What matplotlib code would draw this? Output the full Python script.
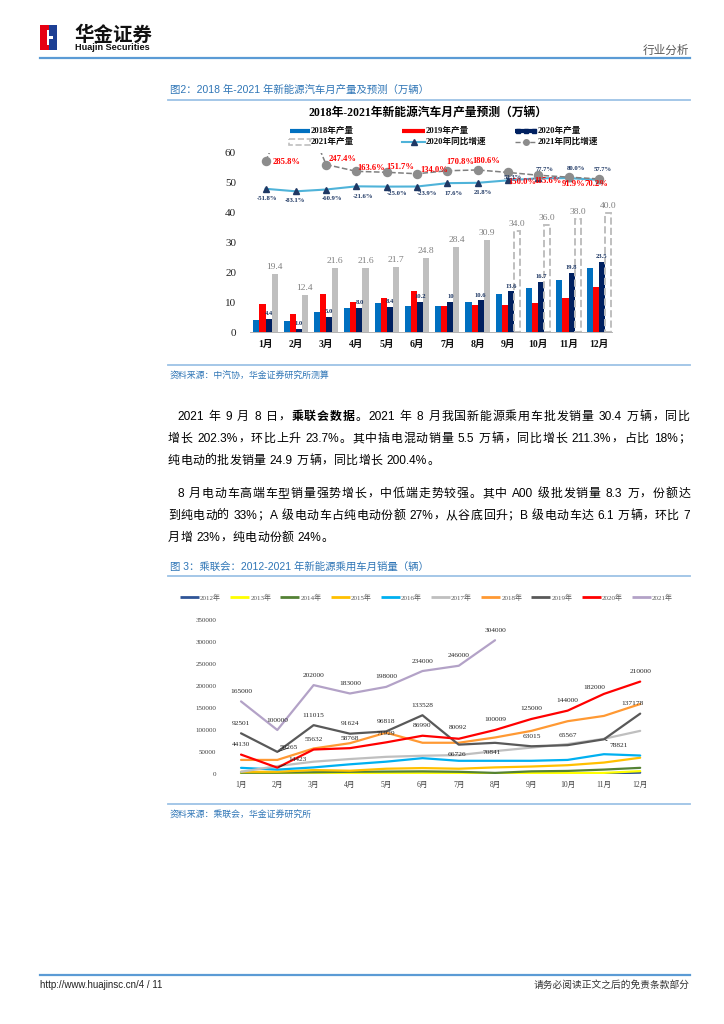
import re
import numpy as np
import matplotlib
matplotlib.use("Agg")
import matplotlib.pyplot as plt
from matplotlib.patches import Rectangle

SANS = ['Liberation Sans', 'Noto Sans CJK SC']
SERIF = ['Liberation Serif', 'Noto Sans CJK SC']
plt.rcParams['font.family'] = SANS

# ---------------- data: chart 1 (万辆 / %) ----------------
months = ['1月', '2月', '3月', '4月', '5月', '6月', '7月', '8月', '9月', '10月', '11月', '12月']
prod_2018 = [4.1, 3.8, 6.8, 8.0, 9.7, 8.6, 8.8, 9.9, 12.6, 14.6, 17.3, 21.5]
prod_2019 = [9.4, 6.0, 12.8, 10.2, 11.3, 13.6, 8.7, 8.9, 9.1, 9.6, 11.4, 15.1]
prod_2020 = [4.4, 1.0, 5.0, 8.0, 8.4, 10.2, 10.0, 10.6, 13.6, 16.7, 19.8, 23.5]
prod_2021 = [19.4, 12.4, 21.6, 21.6, 21.7, 24.8, 28.4, 30.9]
forecast_2021 = [34.0, 36.0, 38.0, 40.0]
yoy_2020 = [-51.8, -83.1, -60.9, -21.6, -25.0, -23.9, 17.6, 21.8, 52.3, 77.7, 80.0, 57.7]
yoy_2021 = [285.8, 1140.0, 247.4, 163.6, 151.7, 134.0, 170.8, 180.6, 150.0, 115.6, 91.9, 70.2]

# ---------------- data: chart 2 (辆) ----------------
years = ['2012年', '2013年', '2014年', '2015年', '2016年', '2017年', '2018年', '2019年', '2020年', '2021年']
sales_2012 = [300, 300, 500, 500, 600, 700, 600, 700, 800, 1000, 1300, 3000]
sales_2013 = [1000, 1000, 1500, 1500, 1500, 1500, 1500, 1500, 2000, 2000, 2500, 6500]
sales_2014 = [3000, 3000, 4000, 5000, 5500, 6000, 5000, 2500, 6000, 7000, 10000, 14000]
sales_2015 = [5000, 5000, 9000, 7500, 12000, 13500, 12000, 15000, 17000, 20000, 26000, 37000]
sales_2016 = [14000, 10000, 15000, 22000, 28000, 36000, 30000, 30000, 30000, 32000, 45000, 42000]
sales_2017 = [5000, 18000, 28000, 34000, 39000, 41500, 43000, 52000, 60000, 68000, 80000, 98000]
sales_2018 = [32000, 32000, 58000, 70000, 94000, 71000, 71000, 83000, 98000, 120000, 132000, 159000]
sales_2019 = [92501, 50265, 111015, 91624, 96818, 133528, 66726, 70841, 63015, 65567, 78821, 137178]
sales_2020 = [44130, 14423, 55632, 58768, 71929, 86990, 80092, 100009, 125000, 144000, 182000, 210000]
sales_2021 = [165000, 100000, 202000, 183000, 198000, 234000, 246000, 304000]
y2_ticks = [0, 50000, 100000, 150000, 200000, 250000, 300000, 350000]

fig = plt.figure(figsize=(7.24, 10.24), dpi=100)
ax0 = fig.add_axes([0, 0, 1, 1])
ax0.set_xlim(0, 724)
ax0.set_ylim(1024, 0)
ax0.axis('off')
rend = fig.canvas.get_renderer()

# ---------------- page header / footer ----------------
ax0.add_patch(Rectangle((40, 25), 9, 25, color='#E60012', lw=0))
ax0.add_patch(Rectangle((49, 25), 8, 25, color='#1D3F94', lw=0))
ax0.add_patch(Rectangle((46.5, 30), 2.5, 15, color='white', lw=0))
ax0.add_patch(Rectangle((49, 35.5), 3.5, 3, color='white', lw=0))
ax0.text(74, 35, '华金证券', fontsize=14, fontweight='bold', family=['Noto Sans CJK SC'],
         va='center', ha='left', color='#111111')
ax0.text(75, 47.5, 'Huajin Securities', fontsize=6.6, fontweight='bold', va='center', ha='left',
         color='#111111')
ax0.text(689, 50, '行业分析', fontsize=8.4, family=['Noto Sans CJK SC'], ha='right', va='center',
         color='#595959')
ax0.plot([40, 690], [57.5, 57.5], color='#5B9BD5', lw=1.6)

ax0.plot([40, 690], [975, 975], color='#5B9BD5', lw=1.6)
ax0.text(40, 985, 'http://www.huajinsc.cn/4 / 11', fontsize=7, va='center', ha='left', color='#222222')
ax0.text(690, 985, '请务必阅读正文之后的免责条款部分', fontsize=7, family=['Noto Sans CJK SC'],
         va='center', ha='right', color='#333333')

BLUE_T = '#2E75B6'
ax0.text(170, 90, '图2：2018 年-2021 年新能源汽车月产量及预测（万辆）', fontsize=7.5, color=BLUE_T,
         va='center', ha='left')
ax0.plot([168, 690], [99.5, 99.5], color='#9DC3E6', lw=1.3)
ax0.plot([168, 690], [365, 365], color='#9DC3E6', lw=1.3)
ax0.text(170, 376, '资料来源：中汽协，华金证券研究所测算', fontsize=6.4, color=BLUE_T, va='center',
         ha='left', fontstyle='italic')

ax0.text(170, 567, '图 3：乘联会：2012-2021 年新能源乘用车月销量（辆）', fontsize=7.5, color=BLUE_T,
         va='center', ha='left')
ax0.plot([168, 690], [576, 576], color='#9DC3E6', lw=1.3)
ax0.plot([168, 690], [804, 804], color='#9DC3E6', lw=1.3)
ax0.text(170, 815, '资料来源：乘联会，华金证券研究所', fontsize=6.4, color=BLUE_T, va='center',
         ha='left', fontstyle='italic')

# ---------------- body text (justified) ----------------
BODY_FS = 8.6


def body_line(x0, y, parts, x1=None):
    toks = []
    for s, b in parts:
        for m in re.finditer(r'[A-Za-z0-9.%]+| |.', s):
            toks.append((m.group(), b))
    objs, widths = [], []
    for t, b in toks:
        if t == ' ':
            objs.append(None)
            widths.append(3.2)
            continue
        o = ax0.text(x0, y + 4, t, fontsize=BODY_FS, fontweight='bold' if b else 'normal',
                     va='baseline', ha='left', color='black')
        objs.append(o)
        widths.append(o.get_window_extent(rend).width)
    gap = 0.4
    if x1 is not None and len(toks) > 1:
        gap = (x1 - x0 - sum(widths)) / (len(toks) - 1)
    x = x0
    for o, w in zip(objs, widths):
        if o is not None:
            o.set_x(x)
        x += w + gap


body_line(177, 416, [('2021 年 9 月 8 日，', False), ('乘联会数据', True),
                     ('。2021 年 8 月我国新能源乘用车批发销量 30.4 万辆，同比', False)], 690)
body_line(168, 438, [('增长 202.3%，环比上升 23.7%。其中插电混动销量 5.5 万辆，同比增长 211.3%，占比 18%；', False)], 690)
body_line(168, 460, [('纯电动的批发销量 24.9 万辆，同比增长 200.4%。', False)])
body_line(177, 493, [('8 月电动车高端车型销量强势增长，中低端走势较强。其中 A00 级批发销量 8.3 万，份额达', False)], 690)
body_line(168, 515, [('到纯电动的 33%；A 级电动车占纯电动份额 27%，从谷底回升；B 级电动车达 6.1 万辆，环比 7', False)], 690)
body_line(168, 537, [('月增 23%，纯电动份额 24%。', False)])

# ---------------- chart 1 ----------------
C18, C19, C20, C21 = '#0070C0', '#FF0000', '#002060', '#BFBFBF'
ax0.text(428, 114, '2018年-2021年新能源汽车月产量预测（万辆）', fontsize=8.5, fontweight='bold',
         family=SERIF, ha='center', va='center', color='black')
lg = dict(fontsize=6.2, fontweight='bold', family=SERIF, va='center', ha='left', color='#111111')
ax0.plot([290, 310], [131, 131], color=C18, lw=3, solid_capstyle='butt')
ax0.text(311, 131, '2018年产量', **lg)
ax0.plot([402, 425], [131, 131], color=C19, lw=3, solid_capstyle='butt')
ax0.text(426, 131, '2019年产量', **lg)
ax0.plot([515, 537], [131, 131], color=C20, lw=3, solid_capstyle='butt')
ax0.plot([518, 526, 534], [131, 131, 131], 's', color=C20, ms=3)
ax0.text(538, 131, '2020年产量', **lg)
ax0.add_patch(Rectangle((289, 139), 21, 6, fill=False, ec=C21, ls='--', lw=1.2))
ax0.text(311, 142, '2021年产量', **lg)
ax0.plot([402, 425], [142, 142], color='#4FB3D9', lw=1.5)
ax0.plot([413.5], [142], '^', color='#1F3864', ms=4)
ax0.text(426, 142, '2020年同比增速', **lg)
ax0.plot([515, 537], [142, 142], color='#7F7F7F', lw=1, ls='--')
ax0.plot([526], [142], 'o', color='#8C8C8C', ms=4)
ax0.text(538, 142, '2021年同比增速', **lg)

ax1 = fig.add_axes([250 / 724, 1 - 332 / 1024, 362 / 724, 179 / 1024])
ax1.patch.set_alpha(0)
x = np.arange(12)
bw = 0.2
ax1.bar(x - 0.3, prod_2018, bw, color=C18, zorder=2)
ax1.bar(x - 0.1, prod_2019, bw, color=C19, zorder=2)
ax1.bar(x + 0.1, prod_2020, bw, color=C20, zorder=2)
ax1.bar(x[:8] + 0.3, prod_2021, bw, color=C21, zorder=2)
ax1.bar(x[8:] + 0.3, forecast_2021, bw, fill=False, edgecolor=C21, ls='--', lw=1.4, zorder=2)
ax1.set_xlim(-0.512, 11.435)
ax1.set_ylim(0, 60)
ax1.set_yticks(range(0, 61, 10))
ax1.set_yticklabels([str(v) for v in range(0, 61, 10)], family=SERIF, fontsize=8, color='#222222')
ax1.set_xticks(x)
ax1.set_xticklabels(months, family=SERIF, fontsize=7, fontweight='bold', color='#111111')
ax1.tick_params(axis='y', length=0, pad=10)
ax1.tick_params(axis='x', length=0, pad=6)
for s in ['left', 'right', 'top']:
    ax1.spines[s].set_visible(False)
ax1.spines['bottom'].set_color('#A6A6A6')
ax1.spines['bottom'].set_linewidth(0.6)

for i, v in enumerate(prod_2021 + forecast_2021):
    ax1.annotate(f'{v:.1f}', (i + 0.3, v), xytext=(0, 2), textcoords='offset points', ha='center',
                 va='bottom', fontsize=6.8, family=SERIF, color='#7F7F7F')
for i, v in enumerate(prod_2020):
    lbl = '10' if v == 10 else f'{v:.1f}'
    ax1.annotate(lbl, (i + 0.1, v), xytext=(0, 2), textcoords='offset points', ha='center',
                 va='bottom', fontsize=4.8, fontweight='bold', family=SERIF, color='#1F3864')

ax1b = ax1.twinx()
ax1b.set_ylim(-1820, 390)
ax1b.axis('off')
ax1b.plot(x, yoy_2020, color='#4FB3D9', lw=1.5, marker='^', ms=4.2, mfc='#1F3864', mec='#1F3864',
          zorder=3)
ax1b.plot(x, yoy_2021, color='#7F7F7F', lw=1.1, ls='--', marker='o', ms=5.8, mfc='#8C8C8C',
          mec='#8C8C8C', zorder=3)
red_off = [(7, 1), None, (3, -6), (1, -3), (0, -5), (3, -4), (-1, -9), (-5, -9), (0, 10), (-4, 6),
           (-7, 7), (-14, 5)]
for i, v in enumerate(yoy_2021):
    if red_off[i] is None:
        continue
    dx, dy = red_off[i]
    ax1b.annotate(f'{v:.1f}%', (i, v), xytext=(dx * 0.72, -dy * 0.72), textcoords='offset points',
                  ha='left', va='center', fontsize=6.2, fontweight='bold', family=SERIF, color='#FF0000',
                  zorder=4)
navy_off = [(1, 10), (-1, 9), (6, 9), (7, 10), (10, 7), (10, 7), (6, 10), (5, 10), (5, -3), (6, -9),
            (7, -10), (4, -10)]
for i, v in enumerate(yoy_2020):
    dx, dy = navy_off[i]
    ax1b.annotate(f'{v:.1f}%', (i, v), xytext=(dx * 0.72, -dy * 0.72), textcoords='offset points',
                  ha='center', va='center', fontsize=4.8, fontweight='bold', family=SERIF, color='#1F3864',
                  zorder=4)

# ---------------- chart 2 ----------------
colors2 = ['#2F5597', '#FFFF00', '#548235', '#FFC000', '#00B0F0', '#BFBFBF', '#FF9933', '#595959',
           '#FF0000', '#B3A2C7']
series2 = [sales_2012, sales_2013, sales_2014, sales_2015, sales_2016, sales_2017, sales_2018,
           sales_2019, sales_2020, sales_2021]

for k, (name, c) in enumerate(zip(years, colors2)):
    lx = 180 + 50.2 * k
    ax0.plot([lx, lx + 19], [597, 597], color=c, lw=2, solid_capstyle='butt')
    ax0.text(lx + 20, 597, name, fontsize=5, family=SERIF, color='#595959', va='center', ha='left')

ax2 = fig.add_axes([224.7 / 724, 1 - 774 / 1024, 430 / 724, 154 / 1024])
ax2.patch.set_alpha(0)
for vals, c in zip(series2, colors2):
    ax2.plot(np.arange(len(vals)), vals, color=c, lw=1.6, solid_capstyle='round', zorder=2)
ax2.set_xlim(-0.45, 11.4)
ax2.set_ylim(0, 350000)
ax2.set_yticks(y2_ticks)
ax2.set_yticklabels([str(v) for v in y2_ticks], family=SERIF, fontsize=5, color='#404040')
ax2.set_xticks(x)
ax2.set_xticklabels(months, family=SERIF, fontsize=5.5, color='#404040')
ax2.tick_params(axis='y', length=0, pad=6)
ax2.tick_params(axis='x', length=0, pad=5)
for s in ax2.spines.values():
    s.set_visible(False)

lab2 = dict(textcoords='offset points', ha='center', va='center', fontsize=5.3, family=SERIF,
            color='#262626', zorder=4)
off_2019 = [(0, -10), (10, -4), (0, -10), (0, -10), (0, -10), (0, -10), (-2, 10), (-3, 10), (0, -10),
            (0, -10), (14, 6), (-8, -10)]
off_2020 = [(0, -10), (19, -8), (0, -10), (0, -10), (0, -9), (0, -10), (-1, -11), (0, -10), (0, -10),
            (0, -10), (-10, -6), (0, -10)]
leaders = {(2019, 1), (2019, 10), (2020, 1)}
for yr, vals, offs in [(2019, sales_2019, off_2019), (2020, sales_2020, off_2020),
                       (2021, sales_2021, [(0, -10)] * 8)]:
    for i, v in enumerate(vals):
        dx, dy = offs[i]
        kw = dict(lab2)
        if (yr, i) in leaders:
            kw['ha'] = 'left'
            kw['arrowprops'] = dict(arrowstyle='-', color='#262626', lw=0.6, shrinkA=0, shrinkB=1)
            dx -= 8
        ax2.annotate(str(v), (i, v), xytext=(dx * 0.72, -dy * 0.72), **kw)

fig.savefig('out.png', dpi=100)
